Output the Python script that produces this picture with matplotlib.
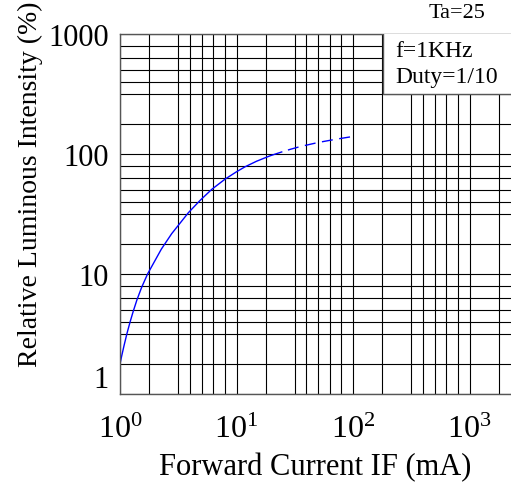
import numpy as np
import matplotlib
matplotlib.use("Agg")
import matplotlib.pyplot as plt
from matplotlib.patches import Rectangle

plt.rcParams['font.family'] = ['Liberation Serif', 'DejaVu Serif']
plt.rcParams['mathtext.fontset'] = 'custom'
plt.rcParams['mathtext.rm'] = 'Liberation Serif'
plt.rcParams['mathtext.it'] = 'Liberation Serif:italic'

# forward current (mA) vs relative luminous intensity (%)
if_solid = [1.0, 1.035, 1.084, 1.148, 1.222, 1.297, 1.396, 1.531, 1.726, 2.265,
            2.780, 3.864, 4.864, 6.124, 7.962, 10.0, 11.83, 14.89, 19.41, 24.43]
iv_solid = [1.778, 2.084, 2.541, 3.199, 4.000, 4.864, 6.067, 7.709, 10.02, 16.13,
            21.71, 32.43, 41.02, 50.70, 61.66, 71.1, 78.2, 87.1, 96.6, 104.0]
if_dash = [24.43, 28.77, 35.56, 50.35, 71.45, 100.0]
iv_dash = [104.0, 109.2, 115.6, 124.8, 132.8, 140.0]

x_ticks = [1, 10, 100, 1000]
x_labels = [r'$10^0$', r'$10^1$', r'$10^2$', r'$10^3$']
y_ticks = [1, 10, 100, 1000]
y_labels = ['1', '10', '100', '1000']

# the chart's grid: lines at these fractions of every decade
frac = [0.25, 0.5, 0.6, 0.7, 0.8, 0.9]
xgrid = [10 ** (d + f) for d in range(3) for f in frac] + [10 ** 3.25]
ygrid = [10 ** (d + f) for d in range(3) for f in frac]

fig = plt.figure(figsize=(5.11, 4.85), dpi=100)
ax = fig.add_axes([120 / 511, 90 / 485, 391 / 511, 360 / 485])
ax.set_xscale('log')
ax.set_yscale('log')
ax.set_xlim(1, 10 ** 3.356)
ax.set_ylim(1, 1000)

ax.set_xticks(x_ticks)
ax.set_xticklabels(x_labels)
ax.set_yticks(y_ticks)
ax.set_yticklabels(y_labels)
ax.set_xticks(xgrid, minor=True)
ax.set_yticks(ygrid, minor=True)
ax.xaxis.set_minor_formatter(plt.NullFormatter())
ax.yaxis.set_minor_formatter(plt.NullFormatter())
ax.tick_params(which='both', length=0)
ax.tick_params(axis='x', labelsize=23, pad=15)
ax.tick_params(axis='y', labelsize=22, pad=8)
ax.grid(True, which='both', color='black', lw=0.8)
ax.set_axisbelow(True)

for s in ['left', 'bottom', 'top']:
    ax.spines[s].set_color('#555555')
    ax.spines[s].set_linewidth(1.0)
ax.spines['right'].set_visible(False)

# the "1" label sits above its line
ax.yaxis.get_major_ticks()[0].label1.set_va('bottom')

ax.plot(if_solid, iv_solid, color='blue', lw=1.0, zorder=2)
ax.plot(if_dash, iv_dash, color='blue', lw=1.0, ls=(7.9, (7.9, 4.7)), zorder=2)

ax.add_patch(Rectangle((0.673, 0.833), 0.4, 0.3, transform=ax.transAxes,
                       facecolor='white', edgecolor='#555555', lw=1.0,
                       zorder=3, clip_on=True))
fig.text(395 / 511, (485 - 57) / 485, 'f=1KHz', fontsize=17, va='baseline', ha='left')
fig.text(395 / 511, (485 - 83) / 485, 'Duty=1/10', fontsize=17, va='baseline', ha='left')
fig.text(485 / 511, (485 - 18) / 485, 'Ta=25', fontsize=16, va='baseline', ha='right')

ax.set_xlabel('Forward Current IF (mA)', fontsize=22, labelpad=6)
ax.set_ylabel('Relative Luminous Intensity (%)', fontsize=20)
ax.yaxis.set_label_coords(-0.196, 0.586)

fig.savefig('out.png', dpi=100)
